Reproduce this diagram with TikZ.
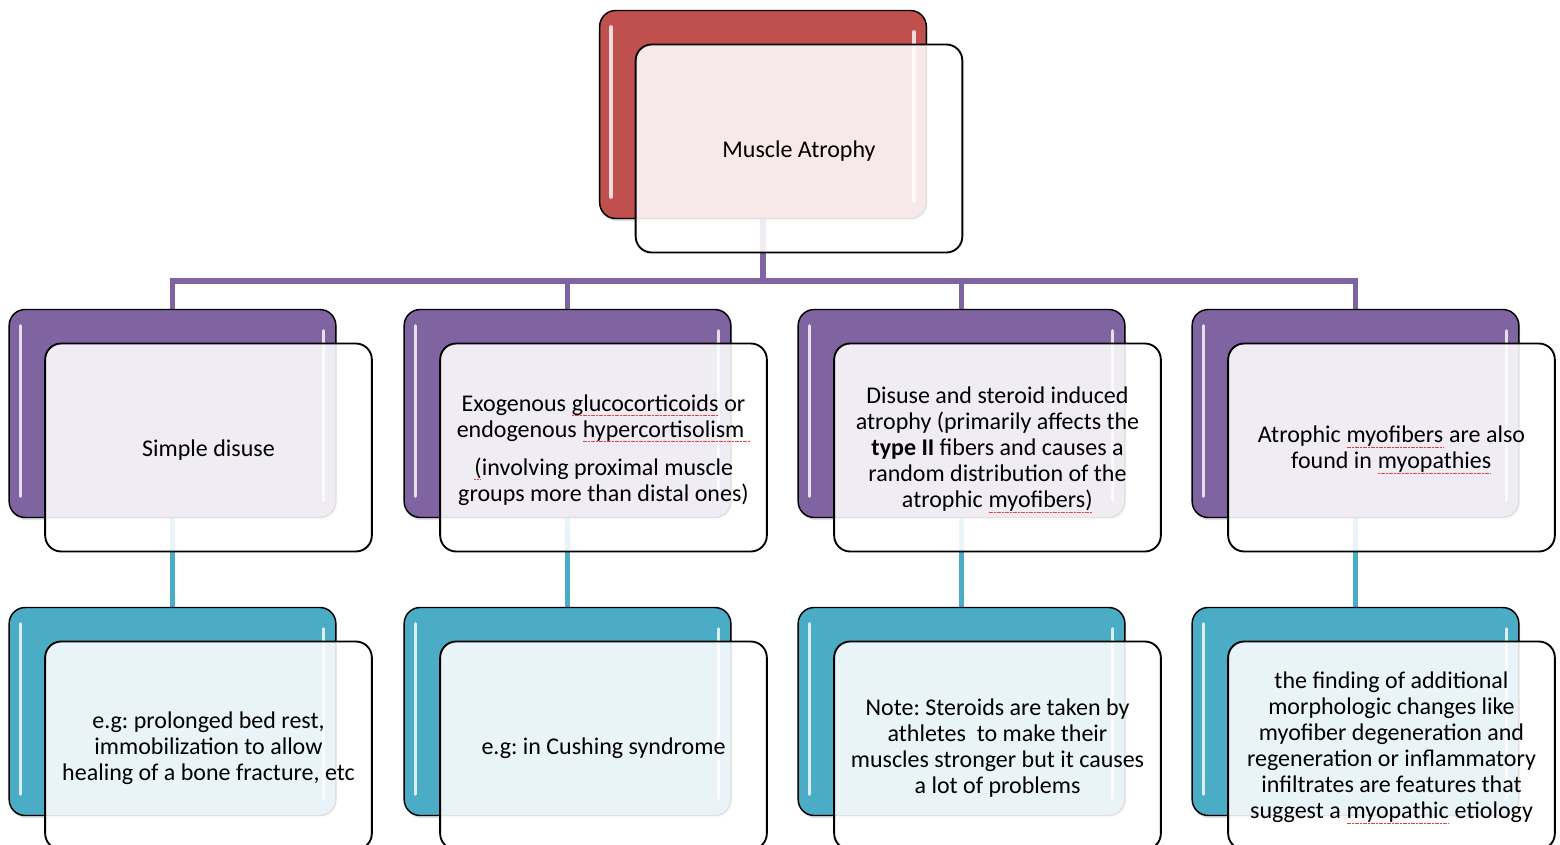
\documentclass[tikz,border=0pt]{standalone}
\usepackage{fontspec}
\setmainfont{Carlito}
\usetikzlibrary{calc,backgrounds,shadows}
\definecolor{cred}{HTML}{C0504D}
\definecolor{cpurple}{HTML}{8064A2}
\definecolor{cteal}{HTML}{4BACC6}
\definecolor{spellred}{HTML}{E84040}
\newcommand\spl[1]{\tikz[baseline=(sw.base)]{\node[inner sep=0pt, outer sep=0pt] (sw) {#1};
  \draw[spellred, line width=0.7pt, dash pattern=on 1.4pt off 0.6pt] ([yshift=-3.4pt]sw.base west) -- ([yshift=-3.4pt]sw.base east);}}
\tikzset{
  backbox/.style={draw=black, line width=1.1pt, rounded corners=12pt, minimum width=245pt, minimum height=156pt, inner sep=0pt,
    drop shadow={opacity=0.25, shadow xshift=1pt, shadow yshift=-2pt}},
  frontbox/.style={draw=black, line width=1.4pt, rounded corners=12pt, minimum width=245pt, minimum height=156pt, inner sep=0pt,
    fill=white, fill opacity=0.88},
  txt/.style={align=center, inner sep=0pt, font=\fontsize{18}{19.5}\selectfont\frenchspacing},
  hl/.style={white, line width=2.4pt, line cap=round, opacity=0.8},
  purpleline/.style={cpurple, line width=3.8pt},
  tealline/.style={cteal, line width=3.8pt}
}
\newcommand\branch[5]{%
  \node[backbox, fill=#4] (#1b) at (#2,#3) {};
  \draw[hl] ($(#1b.north west)+(12,17)$) -- ($(#1b.south west)+(12,-22)$);
  \draw[hl] ($(#1b.north east)+(-13,22)$) -- ($(#1b.south east)+(-13,-18)$);
  \node[frontbox] (#1) at ($(#2,#3)+(36,34)$) {};
  \node[txt] (#1t) at ($(#1.center)+(0,2.5)$) {#5};
}
\begin{document}
\begin{tikzpicture}[x=0.75pt,y=-0.75pt]
\useasboundingbox (0,0) rectangle (1560,845);
\clip (0,0) rectangle (1560,845);

\branch{top}{763}{114.5}{cred}{Muscle Atrophy}

\branch{a}{172.5}{413.5}{cpurple}{Simple disuse}
\branch{b}{567.5}{413.5}{cpurple}{Exogenous \spl{glucocorticoids} or\\endogenous \spl{hypercortisolism\ }\\[9pt]\spl{(}involving proximal muscle\\groups more than distal ones)}
\branch{c}{961.5}{413.5}{cpurple}{Disuse and steroid induced\\atrophy (primarily affects the\\\textbf{type II} fibers and causes a\\random distribution of the\\atrophic \spl{myofibers)}}
\branch{d}{1355.5}{413.5}{cpurple}{Atrophic \spl{myofibers} are also\\found in \spl{myopathies}}

\branch{a3}{172.5}{711.5}{cteal}{e.g: prolonged bed rest,\\immobilization to allow\\healing of a bone fracture, etc}
\branch{b3}{567.5}{711.5}{cteal}{e.g: in Cushing syndrome}
\branch{c3}{961.5}{711.5}{cteal}{Note: Steroids are taken by\\athletes \ to make their\\muscles stronger but it causes\\a lot of problems}
\branch{d3}{1355.5}{711.5}{cteal}{the finding of additional\\morphologic changes like\\myofiber degeneration and\\regeneration or inflammatory\\infiltrates are features that\\suggest a \spl{myopathic} etiology}

\begin{scope}[on background layer]
  \fill[white] (0,0) rectangle (1560,845);
  \coordinate (hub) at (763,281);
  \foreach \n in {a,b,c,d}{
    \draw[purpleline] (topb.south) |- (\n b.north |- hub) -- (\n b.north);
    \draw[tealline] (\n b.south) -- (\n 3b.north);
  }
\end{scope}
\end{tikzpicture}
\end{document}
